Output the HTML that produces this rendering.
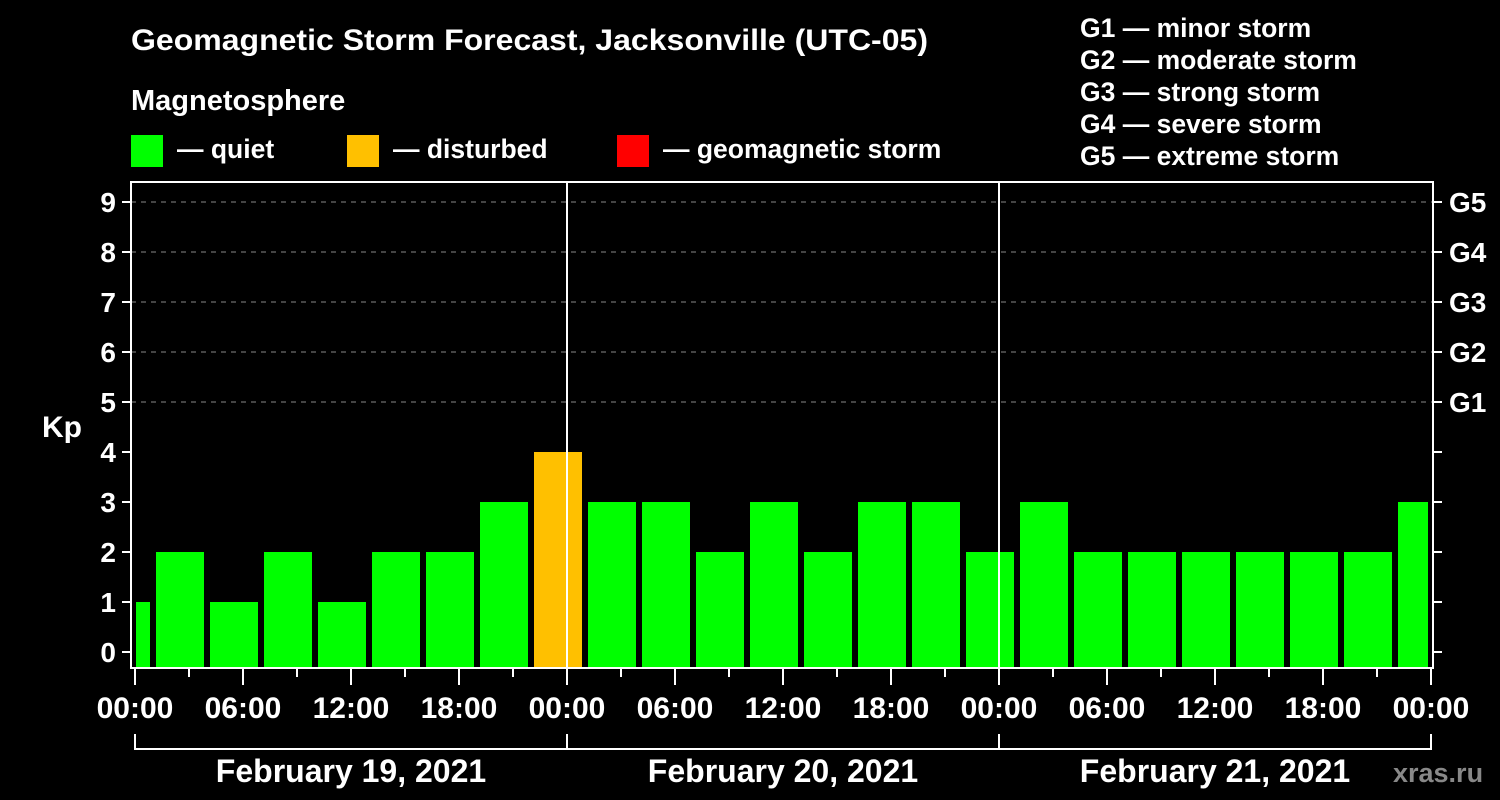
<!DOCTYPE html>
<html><head><meta charset="utf-8"><style>
html,body{margin:0;padding:0;background:#000;}
svg{display:block;font-family:"Liberation Sans",sans-serif;font-weight:bold;}
</style></head><body>
<svg id="chart" width="1500" height="800" viewBox="0 0 1500 800">
<rect width="1500" height="800" fill="#000"/>
<text x="131" y="50" fill="#fff" font-size="30" textLength="797" lengthAdjust="spacingAndGlyphs">Geomagnetic Storm Forecast, Jacksonville (UTC-05)</text>
<text x="131" y="110" fill="#fff" font-size="29">Magnetosphere</text>
<g><rect x="131" y="135" width="32" height="32" fill="#00ff00"/><text x="177" y="158" fill="#fff" font-size="26.5">— quiet</text></g>
<g><rect x="347" y="135" width="32" height="32" fill="#ffc000"/><text x="393" y="158" fill="#fff" font-size="26.5">— disturbed</text></g>
<g><rect x="617" y="135" width="32" height="32" fill="#ff0000"/><text x="663" y="158" fill="#fff" font-size="26.5">— geomagnetic storm</text></g>
<g fill="#fff" font-size="26.5">
<text x="1080" y="37">G1 — minor storm</text>
<text x="1080" y="69">G2 — moderate storm</text>
<text x="1080" y="101">G3 — strong storm</text>
<text x="1080" y="133">G4 — severe storm</text>
<text x="1080" y="165">G5 — extreme storm</text>
</g>
<text x="42" y="437" fill="#fff" font-size="30">Kp</text>
<text x="1393" y="782" fill="#888" font-size="27">xras.ru</text>
<g id="plot"></g>
</svg>
<script>
const kpValues = [1,2,1,2,1,2,2,3,4,3,3,2,3,2,3,3,2,3,2,2,2,2,2,2,3];
const barHoursCenter = [-0.5,2.5,5.5,8.5,11.5,14.5,17.5,20.5,23.5,26.5,29.5,32.5,35.5,38.5,41.5,44.5,47.5,50.5,53.5,56.5,59.5,62.5,65.5,68.5,71.5];
const yTicks = [0,1,2,3,4,5,6,7,8,9];
const gLabels = ["G1","G2","G3","G4","G5"];
const xTickLabels = ["00:00","06:00","12:00","18:00","00:00","06:00","12:00","18:00","00:00","06:00","12:00","18:00","00:00"];
const dayLabels = ["February 19, 2021","February 20, 2021","February 21, 2021"];

const NS="http://www.w3.org/2000/svg";
const g=document.getElementById('plot');
const x0=135, pxPerHour=18, y0=652, pxPerKp=50;
const X=h=>x0+h*pxPerHour, Y=v=>y0-v*pxPerKp;
const L=131,R=1433,T=182,B=668;
function mk(tag,attrs,parent){const e=document.createElementNS(NS,tag);for(const k in attrs)e.setAttribute(k,attrs[k]);(parent||g).appendChild(e);return e;}
function color(v){return v>=5?'#ff0000':(v>=4?'#ffc000':'#00ff00');}
[5,6,7,8,9].forEach(v=>{const l=mk('line',{x1:L,x2:R,y1:Y(v),y2:Y(v),stroke:'#888','stroke-width':1,'stroke-dasharray':'5,5'});

});
kpValues.forEach((v,i)=>{
 let a=X(barHoursCenter[i])-24, b=X(barHoursCenter[i])+24;
 a=Math.max(a,136); b=Math.min(b,1428);
 const r=mk('rect',{x:a,y:Y(v),width:b-a,height:B-Y(v),fill:color(v)});
 
 
});
[24,48].forEach(h=>{const l=mk('line',{x1:X(h),x2:X(h),y1:T,y2:B,stroke:'#fff','stroke-width':2});

});
const f=mk('rect',{x:L,y:T,width:R-L,height:B-T,fill:'none',stroke:'#fff','stroke-width':2});


yTicks.forEach(v=>{
 mk('line',{x1:122,x2:L,y1:Y(v),y2:Y(v),stroke:'#fff','stroke-width':2});
 mk('line',{x1:R,x2:1442,y1:Y(v),y2:Y(v),stroke:'#fff','stroke-width':2});
 const t=mk('text',{x:116,y:Y(v)+10,fill:'#fff','font-size':28,'text-anchor':'end'});t.textContent=v;
 
 
});
gLabels.forEach((s,i)=>{const t=mk('text',{x:1449,y:Y(5+i)+10,fill:'#fff','font-size':28});t.textContent=s;
 
 });
for(let h=0;h<=72;h+=3){const long=h%6===0;mk('line',{x1:X(h),x2:X(h),y1:B,y2:long?685:677,stroke:'#fff','stroke-width':2});}
xTickLabels.forEach((s,i)=>{const t=mk('text',{x:X(i*6),y:718,fill:'#fff','font-size':30,'text-anchor':'middle'});t.textContent=s;
 
 });
mk('line',{x1:X(0),x2:X(72),y1:749,y2:749,stroke:'#fff','stroke-width':2});
[0,24,48,72].forEach(h=>mk('line',{x1:X(h),x2:X(h),y1:734,y2:750,stroke:'#fff','stroke-width':2}));
dayLabels.forEach((s,i)=>{const t=mk('text',{x:X(i*24+12),y:782,fill:'#fff','font-size':32,'text-anchor':'middle'});t.textContent=s;
 
 });
</script>
</body></html>
